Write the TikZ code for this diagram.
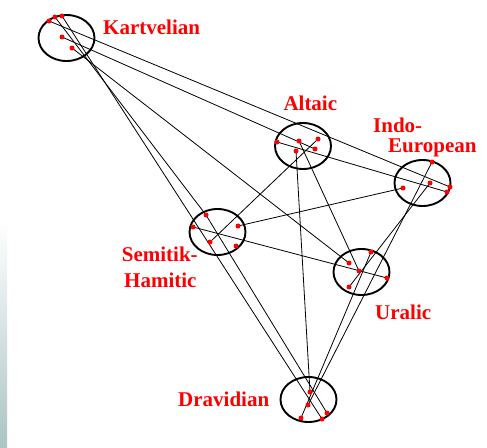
\documentclass[tikz,border=0pt]{standalone}
\usepackage{fontspec}
\setmainfont{Liberation Serif}
\usetikzlibrary{shapes.geometric,backgrounds}
\definecolor{famred}{RGB}{255,0,0}
\definecolor{edgeteal}{RGB}{172,196,196}
\begin{document}
\begin{tikzpicture}[x=1pt,y=-1pt,
  ring/.style={draw=black, line width=1.9pt, ellipse, inner sep=0pt,
               minimum width=56pt, minimum height=46pt},
  dot/.style={circle, fill=famred, inner sep=0pt, minimum size=5pt},
  link/.style={draw=black, line width=0.8pt},
  lab/.style={text=famred, font=\fontsize{21}{21}\selectfont\bfseries,
              anchor=base west, inner sep=0pt}]
\useasboundingbox (0,0) rectangle (487,447);

% language families
\node[ring] (kart) at (66.5,38) {};
\node[ring] (alt)  at (303,146) {};
\node[ring] (ie)   at (422.5,183) {};
\node[ring] (sem)  at (217.5,232) {};
\node[ring] (ural) at (361.5,272) {};
\node[ring, minimum height=45pt] (drav) at (308.5,399.5) {};

% member points
\node[dot] (k1) at (49,21) {};
\node[dot] (k2) at (55,17) {};
\node[dot] (k3) at (62,16) {};
\node[dot] (k4) at (62,37) {};
\node[dot] (k5) at (72,48) {};

\node[dot] (a1) at (277,142) {};
\node[dot] (a2) at (299,141) {};
\node[dot] (a3) at (318,139) {};
\node[dot] (a4) at (296,151) {};
\node[dot] (a5) at (315,149) {};

\node[dot] (e1) at (432,162) {};
\node[dot] (e2) at (430,183) {};
\node[dot] (e3) at (450,187) {};
\node[dot] (e4) at (447,192) {};
\node[dot] (e5) at (403,188) {};

\node[dot] (s1) at (206,215) {};
\node[dot] (s2) at (193,227) {};
\node[dot] (s3) at (238,226) {};
\node[dot] (s4) at (210,242) {};
\node[dot] (s5) at (236,246) {};

\node[dot] (u1) at (349,263) {};
\node[dot] (u2) at (371,252) {};
\node[dot] (u3) at (359,271) {};
\node[dot] (u4) at (387,278) {};
\node[dot] (u5) at (349,287) {};

\node[dot] (d1) at (310,392) {};
\node[dot] (d2) at (308,405) {};
\node[dot] (d3) at (327,413) {};
\node[dot] (d4) at (301,418) {};
\node[dot] (d5) at (322,419) {};

% page tint and links between families, beneath the rings
\begin{pgfonlayer}{background}
\fill[white] (0,0) rectangle (487,447);
\shade[top color=white, bottom color=edgeteal] (0,221) rectangle (7,447);
\draw[link] (k1.center) -- (e3.center);
\draw[link] (k2.center) -- (s1.center);
\draw[link] (k3.center) -- (d5.center);
\draw[link] (k4.center) -- (a5.center);
\draw[link] (k5.center) -- (u1.center);
\draw[link] (a1.center) -- (e4.center);
\draw[link] (a2.center) -- (u3.center);
\draw[link] (a3.center) -- (s4.center);
\draw[link] (a4.center) -- (d1.center);
\draw[link] (e1.center) -- (d2.center);
\draw[link] (e2.center) -- (u5.center);
\draw[link] (e5.center) -- (s3.center);
\draw[link] (s1.center) -- (d3.center);
\draw[link] (s2.center) -- (u4.center);
\draw[link] (u2.center) -- (d4.center);
\end{pgfonlayer}

% family names
\node[lab] (lkart) at (103,34.3) {Kartvelian};
\node[lab] (lalt)  at (283.3,110) {Altaic};
\node[lab] (lie1)  at (373,132.7) {Indo-};
\node[lab] (lie2)  at (388,152.7) {European};
\node[lab] (lsem1) at (121.7,261.7) {Semitik-};
\node[lab] (lsem2) at (124,287) {Hamitic};
\node[lab] (lural) at (375,319.5) {Uralic};
\node[lab] (ldrav) at (178,406.7) {Dravidian};
\end{tikzpicture}
\end{document}
